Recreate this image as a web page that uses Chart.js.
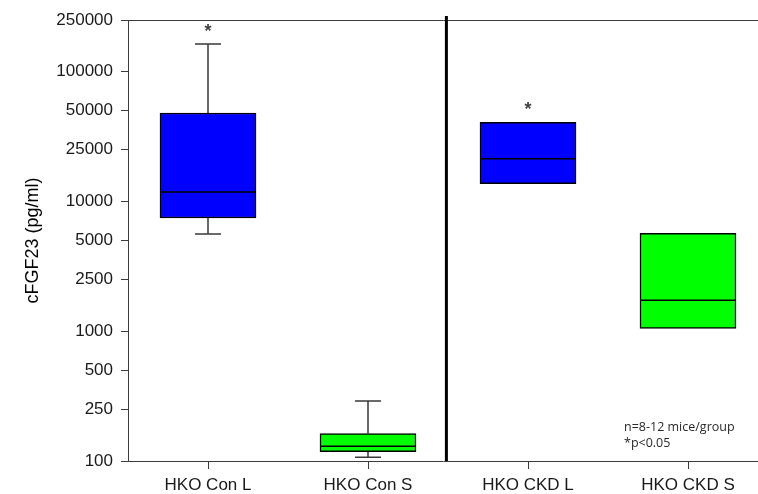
<!DOCTYPE html>
<html>
<head>
<meta charset="utf-8">
<script src="https://cdn.jsdelivr.net/npm/chart.js@4/dist/chart.umd.min.js"></script>
<style>
  html, body { margin: 0; padding: 0; background: #fff; }
  #wrap { width: 758px; height: 494px; position: relative; }
</style>
</head>
<body>
<div id="wrap"><canvas id="myChart"></canvas></div>
<script>
// groups and box-plot statistics (pg/ml)
var categories = ['HKO Con L', 'HKO Con S', 'HKO CKD L', 'HKO CKD S'];
var q1 = [7450, 118, 13700, 1050];
var median = [11800, 130, 21300, 1730];
var q3 = [48000, 163, 40700, 5680];
var whiskerLow = [5600, 107, null, null];
var whiskerHigh = [163000, 290, null, null];
var significant = [true, false, true, false];
var yTicks = [100, 250, 500, 1000, 2500, 5000, 10000, 25000, 50000, 100000, 250000];
var notes = ['n=8-12 mice/group', '*p<0.05'];

var boxColors = ['#0000ff', '#00ff00', '#0000ff', '#00ff00'];
var axisColor = '#3c3c3c';

Chart.defaults.font.family = '"Liberation Sans", Arial, sans-serif';
Chart.defaults.color = '#1a1a1a';

// whiskers, medians, asterisks, the divider and the footnote
var boxExtras = {
	id: 'boxExtras',
	beforeDatasetsDraw: function(chart) {
		var ctx = chart.ctx, x = chart.scales.x, y = chart.scales.y;
		ctx.save();
		ctx.strokeStyle = '#3a3a3a';
		ctx.lineWidth = 1.5;
		for (var i = 0; i < categories.length; i++) {
			var cx = x.getPixelForValue(i);
			if (whiskerHigh[i] != null) {
				var top = y.getPixelForValue(whiskerHigh[i]);
				ctx.beginPath();
				ctx.moveTo(cx, y.getPixelForValue(q3[i]));
				ctx.lineTo(cx, top);
				ctx.moveTo(cx - 13, top);
				ctx.lineTo(cx + 13, top);
				ctx.stroke();
			}
			if (whiskerLow[i] != null) {
				var bot = y.getPixelForValue(whiskerLow[i]);
				ctx.beginPath();
				ctx.moveTo(cx, y.getPixelForValue(q1[i]));
				ctx.lineTo(cx, bot);
				ctx.moveTo(cx - 13, bot);
				ctx.lineTo(cx + 13, bot);
				ctx.stroke();
			}
		}
		ctx.restore();
	},
	afterDatasetsDraw: function(chart) {
		var ctx = chart.ctx, x = chart.scales.x, y = chart.scales.y;
		var area = chart.chartArea;
		var meta = chart.getDatasetMeta(0);
		ctx.save();
		// medians
		ctx.strokeStyle = '#000';
		ctx.lineWidth = 1.5;
		meta.data.forEach(function(bar, i) {
			var my = y.getPixelForValue(median[i]);
			ctx.beginPath();
			ctx.moveTo(bar.x - bar.width / 2, my);
			ctx.lineTo(bar.x + bar.width / 2, my);
			ctx.stroke();
		});
		// asterisks above the highest mark
		ctx.fillStyle = '#444';
		ctx.font = 'bold 18px "Liberation Sans", Arial';
		ctx.textAlign = 'center';
		ctx.textBaseline = 'middle';
		for (var i = 0; i < categories.length; i++) {
			if (!significant[i]) continue;
			var hi = whiskerHigh[i] != null ? whiskerHigh[i] : q3[i];
			ctx.fillText('*', x.getPixelForValue(i), y.getPixelForValue(hi) - 12);
		}
		// divider between control and CKD groups
		var sx = x.getPixelForValue(1.49);
		ctx.strokeStyle = '#000';
		ctx.lineWidth = 3;
		ctx.beginPath();
		ctx.moveTo(sx, area.top - 4);
		ctx.lineTo(sx, area.bottom);
		ctx.stroke();
		// footnote
		ctx.fillStyle = '#2a2a2a';
		ctx.font = '12.5px "Open Sans", sans-serif';
		ctx.textAlign = 'left';
		notes.forEach(function(t, k) {
			ctx.fillText(t, area.right - 134, area.bottom - 34 + k * 16);
		});
		ctx.restore();
	}
};

var ctx = document.getElementById('myChart');
var myChart = new Chart(ctx, {
	type: 'bar',
	data: {
		datasets: [{
			label: 'IQR',
			data: categories.map(function(c, i) { return { x: i, y: [q1[i], q3[i]] }; }),
			backgroundColor: boxColors,
			borderColor: '#000',
			borderWidth: 1.5,
			borderSkipped: false,
			barThickness: 96
		}]
	},
	options: {
		responsive: true,
		maintainAspectRatio: false,
		animation: false,
		layout: { padding: 0 },
		plugins: {
			legend: { display: false },
			tooltip: { enabled: false }
		},
		scales: {
			x: {
				type: 'linear',
				position: 'bottom',
				offset: false,
				min: -0.5,
				max: 3.4375,
				afterBuildTicks: function(scale) {
					scale.ticks = categories.map(function(c, i) { return { value: i }; });
				},
				afterFit: function(scale) { scale.height = 33; },
				ticks: {
					autoSkip: false,
					maxRotation: 0,
					padding: 6,
					font: { size: 17 },
					color: '#1a1a1a',
					callback: function(v) { return categories[v]; }
				},
				grid: { offset: false, drawOnChartArea: false, tickLength: 8, color: axisColor },
				border: { color: axisColor, width: 1 }
			},
			xTop: {
				type: 'linear',
				position: 'top',
				ticks: { display: false },
				grid: { display: false },
				afterFit: function(scale) { scale.height = 20; },
				border: { color: axisColor, width: 1 }
			},
			y: {
				type: 'logarithmic',
				min: 100,
				max: 250000,
				afterBuildTicks: function(scale) {
					scale.ticks = yTicks.map(function(v) { return { value: v }; });
				},
				afterFit: function(scale) { scale.width = 128; },
				ticks: {
					padding: 8,
					font: { size: 17 },
					color: '#1a1a1a',
					callback: function(v) { return String(v); }
				},
				grid: { drawOnChartArea: false, tickLength: 7, color: axisColor },
				border: { color: axisColor, width: 1 },
				title: {
					display: true,
					text: 'cFGF23 (pg/ml)',
					font: { size: 18 },
					color: '#000',
					padding: { top: 22, bottom: 0 }
				}
			}
		}
	},
	plugins: [boxExtras]
});
</script>
</body>
</html>
